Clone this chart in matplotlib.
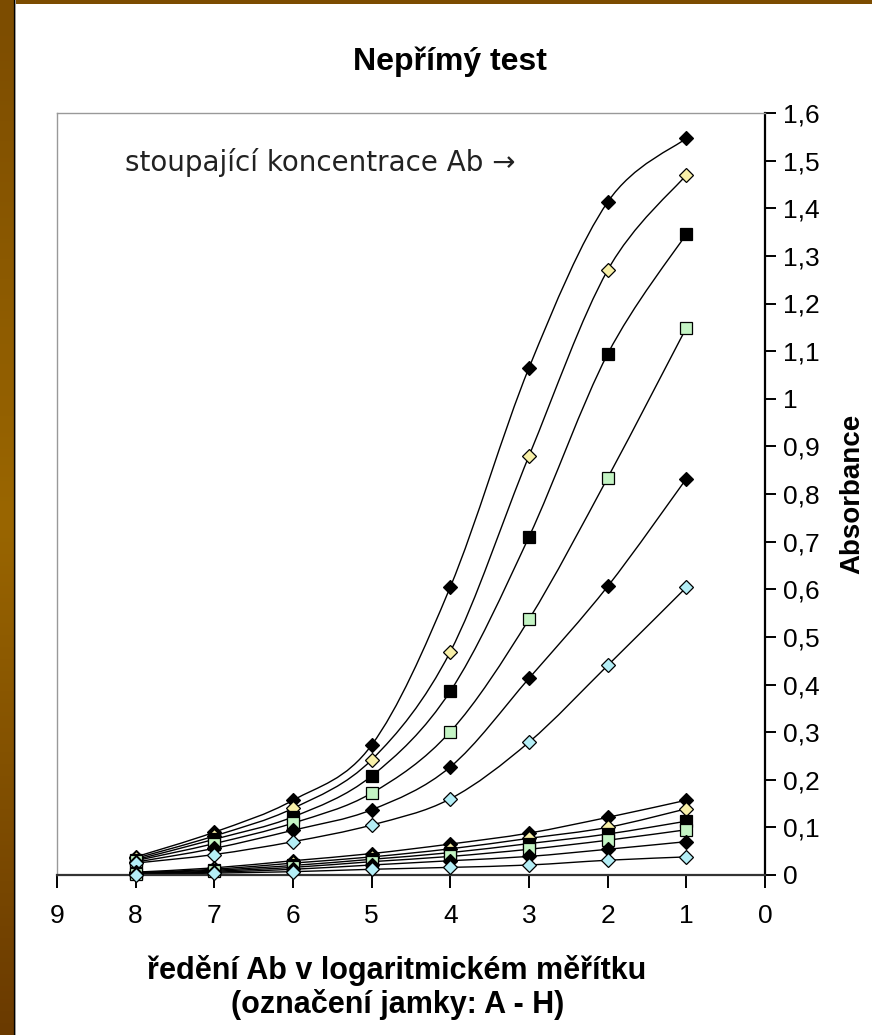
import numpy as np
import matplotlib.pyplot as plt
from matplotlib.path import Path
from matplotlib.patches import PathPatch
from matplotlib.colors import LinearSegmentedColormap

# ředění (označení jamky), osa jde od 9 do 0
dilution = [8, 7, 6, 5, 4, 3, 2, 1]

# horní skupina křivek (vyšší koncentrace)
high_1 = [0.038, 0.090, 0.157, 0.273, 0.605, 1.065, 1.413, 1.547]
high_2 = [0.035, 0.082, 0.140, 0.242, 0.469, 0.880, 1.270, 1.470]
high_3 = [0.032, 0.075, 0.122, 0.208, 0.386, 0.710, 1.094, 1.346]
high_4 = [0.030, 0.066, 0.109, 0.172, 0.301, 0.537, 0.834, 1.149]
high_5 = [0.027, 0.056, 0.094, 0.137, 0.227, 0.413, 0.606, 0.832]
high_6 = [0.025, 0.043, 0.070, 0.105, 0.160, 0.279, 0.440, 0.604]

# dolní skupina křivek
low_1 = [0.006, 0.015, 0.030, 0.045, 0.065, 0.088, 0.121, 0.157]
low_2 = [0.005, 0.012, 0.025, 0.038, 0.055, 0.077, 0.100, 0.139]
low_3 = [0.004, 0.010, 0.020, 0.033, 0.047, 0.066, 0.086, 0.113]
low_4 = [0.003, 0.008, 0.016, 0.028, 0.039, 0.054, 0.073, 0.095]
low_5 = [0.002, 0.006, 0.012, 0.021, 0.030, 0.039, 0.054, 0.070]
low_6 = [0.001, 0.004, 0.007, 0.012, 0.016, 0.021, 0.031, 0.038]

y_ticks = [0, 0.1, 0.2, 0.3, 0.4, 0.5, 0.6, 0.7, 0.8, 0.9, 1.0,
           1.1, 1.2, 1.3, 1.4, 1.5, 1.6]
x_ticks = [9, 8, 7, 6, 5, 4, 3, 2, 1, 0]

styles = [('D', 'black', 7), ('D', '#f8f0a8', 7), ('s', 'black', 8.5),
          ('s', '#c4f4c4', 8.5), ('D', 'black', 7), ('D', '#b4eef6', 7)]

fam = ['Liberation Sans', 'DejaVu Sans']


def smooth_path(xs, ys):
    # Excel-like smoothed line: Catmull-Rom segments as cubic Beziers
    p = np.column_stack([xs, ys]).astype(float)
    n = len(p)
    verts = [p[0]]
    codes = [Path.MOVETO]
    for i in range(n - 1):
        p0 = p[i - 1] if i > 0 else p[i]
        p3 = p[i + 2] if i + 2 < n else p[i + 1]
        c1 = p[i] + (p[i + 1] - p0) / 6.0
        c2 = p[i + 1] - (p3 - p[i]) / 6.0
        verts += [c1, c2, p[i + 1]]
        codes += [Path.CURVE4] * 3
    return Path(verts, codes)


fig = plt.figure(figsize=(8.72, 10.35), dpi=100)

# hnědý rámeček vlevo a nahoře
grad = np.linspace(0, 1, 256).reshape(-1, 1)
brown = LinearSegmentedColormap.from_list('brown', ['#7c4c00', '#9a6600', '#6a3a00'])
bax = fig.add_axes([0, 0, 13 / 872, 1])
bax.imshow(grad, aspect='auto', cmap=brown, origin='upper')
bax.axis('off')
fig.add_artist(plt.Line2D([13.5 / 872] * 2, [0, 1], color='black', lw=0.9))
fig.add_artist(plt.Line2D([14.5 / 872] * 2, [0, 1], color='#999999', lw=0.7))
tax = fig.add_axes([0, 1 - 4 / 1035, 1, 4 / 1035])
tax.set_facecolor('#7c4c00')
tax.set_xticks([]); tax.set_yticks([])
for s in tax.spines.values():
    s.set_visible(False)

ax = fig.add_axes([57 / 872, 160 / 1035, 708 / 872, 762 / 1035])
ax.set_xlim(9, 0)
ax.set_ylim(0, 1.6)

series = [high_1, high_2, high_3, high_4, high_5, high_6,
          low_1, low_2, low_3, low_4, low_5, low_6]
for k, vals in enumerate(series):
    m, c, ms = styles[k % 6]
    ax.add_patch(PathPatch(smooth_path(dilution, vals), fc='none', ec='black',
                           lw=1.0, zorder=2))
    ax.plot(dilution, vals, ls='none', marker=m, ms=ms, mfc=c, mec='black',
            mew=0.9, zorder=3 + k, clip_on=False)

# osy
ax.spines['top'].set_color('#999999')
ax.spines['left'].set_color('#999999')
ax.spines['top'].set_linewidth(1.0)
ax.spines['left'].set_linewidth(1.0)
ax.spines['bottom'].set_color('#333333')
ax.spines['bottom'].set_linewidth(1.6)
ax.spines['right'].set_color('black')
ax.spines['right'].set_linewidth(1.6)

ax.set_xticks(x_ticks)
ax.set_xticklabels([str(v) for v in x_ticks], family=fam, fontsize=19)
ax.tick_params(axis='x', direction='out', length=9, width=1.4, color='black',
               pad=12)
ax.yaxis.tick_right()
ax.set_yticks(y_ticks)
ax.set_yticklabels([f'{v:g}'.replace('.', ',') for v in y_ticks],
                   family=fam, fontsize=19)
ax.tick_params(axis='y', direction='out', length=8, width=1.4, color='black',
               pad=5)

ax.text(8.136, 1.497, 'stoupající koncentrace Ab \u2192', fontsize=20,
        color='#222222', va='center', ha='left')

fig.text(450 / 872, 1 - 62 / 1035, 'Nepřímý test', family=fam,
         fontsize=23, fontweight='bold', ha='center', va='center')
fig.text(397 / 872, 1 - 971 / 1035, 'ředění Ab v logaritmickém měřítku',
         family=fam, fontsize=22, fontweight='bold', ha='center', va='center')
fig.text(398 / 872, 1 - 1005 / 1035, '(označení jamky: A - H)',
         family=fam, fontsize=22, fontweight='bold', ha='center', va='center')
fig.text(852 / 872, 1 - 494 / 1035, 'Absorbance', family=fam,
         fontsize=20, fontweight='bold', rotation=90, ha='center', va='center')

fig.savefig('out.png', dpi=100)
